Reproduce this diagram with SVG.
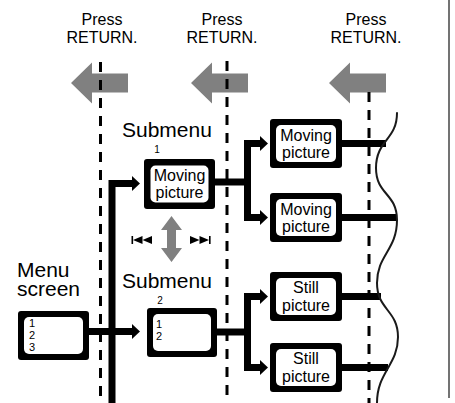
<svg xmlns="http://www.w3.org/2000/svg" width="455" height="403" viewBox="0 0 455 403">
<style>
.t{font-family:"Liberation Sans",Arial,sans-serif;fill:#000}
.big{font-size:21px}
.bx{font-size:16px;text-anchor:middle}
.num{font-size:11px}
.sm{font-size:10px}
.press{font-size:16px;text-anchor:middle}
.dash{stroke:#000;stroke-width:3;stroke-dasharray:10 8;fill:none}
.thick{stroke:#000;stroke-width:7;fill:none;stroke-linejoin:miter}
.gray{fill:#808080}
.outer{fill:#000}
.inner{fill:#fff}
.wave{stroke:#1a1a1a;stroke-width:2;fill:none;stroke-linecap:round}
</style>
<defs>
<polygon id="back" class="gray" points="0,0 21,-20.5 21,-9.5 57,-9.5 57,9.5 21,9.5 21,20.5"/>
<polygon id="ah" class="outer" points="0,-7.5 8,0 0,7.5"/>
</defs>
<rect width="455" height="403" fill="#fff"/>
<line x1="449" y1="0" x2="449" y2="398" stroke="#444" stroke-width="1.5"/>

<g id="press1">
<text class="t press" x="102" y="25">Press</text>
<text class="t press" x="102" y="43">RETURN.</text>
<use href="#back" x="71" y="83"/>
</g>
<g id="press2">
<text class="t press" x="222" y="25">Press</text>
<text class="t press" x="222" y="43">RETURN.</text>
<use href="#back" x="191" y="83"/>
</g>
<g id="press3">
<text class="t press" x="366" y="25">Press</text>
<text class="t press" x="366" y="43">RETURN.</text>
<use href="#back" x="329" y="83"/>
</g>

<g id="stage-dividers">
<line class="dash" x1="100.5" y1="62" x2="100.5" y2="403"/>
<line class="dash" x1="227" y1="61" x2="227" y2="403"/>
<line class="dash" x1="369" y1="92" x2="369" y2="403"/>
</g>

<g id="connectors">
<polyline class="thick" points="112,403 112,183.5 132,183.5"/>
<use href="#ah" x="132" y="183.5"/>
<line class="thick" x1="89" y1="331.5" x2="132" y2="331.5"/>
<use href="#ah" x="132" y="331.5"/>
<line class="thick" x1="215" y1="182" x2="248" y2="182"/>
<polyline class="thick" points="261,143.5 247.5,143.5 247.5,217.5 261,217.5"/>
<use href="#ah" x="260" y="143.5"/>
<use href="#ah" x="260" y="217.5"/>
<line class="thick" x1="217" y1="332" x2="248" y2="332"/>
<polyline class="thick" points="261,296.5 247.5,296.5 247.5,367.5 261,367.5"/>
<use href="#ah" x="260" y="296.5"/>
<use href="#ah" x="260" y="367.5"/>
<line class="thick" x1="342" y1="143.5" x2="386" y2="143.5"/>
<line class="thick" x1="342" y1="217.5" x2="397" y2="217.5"/>
<line class="thick" x1="341" y1="296.5" x2="381" y2="296.5"/>
<line class="thick" x1="341" y1="367.5" x2="388" y2="367.5"/>
</g>

<g id="menu-screen">
<text class="t big" x="17" y="277">Menu</text>
<text class="t big" x="17" y="296">screen</text>
<rect class="outer" x="18" y="311" width="71" height="49" rx="3"/>
<rect class="inner" x="24" y="317" width="59" height="37" rx="5"/>
<text class="t num" x="29" y="327">1</text>
<text class="t num" x="29" y="339">2</text>
<text class="t num" x="29" y="351">3</text>
</g>

<g id="submenu1">
<text class="t big" x="122" y="137">Submenu</text>
<text class="t sm" x="157" y="153" text-anchor="middle">1</text>
<rect class="outer" x="144" y="159" width="71" height="50" rx="3"/>
<rect class="inner" x="150.5" y="165.5" width="58" height="37" rx="5"/>
<text class="t bx" x="179.5" y="181">Moving</text>
<text class="t bx" x="179.5" y="198">picture</text>
</g>

<g id="skip-control">
<polygon class="gray" points="171.5,216 182,230 176,230 176,248 182,248 171.5,262 161,248 167,248 167,230 161,230"/>
<rect class="outer" x="131.5" y="236" width="1.6" height="8"/>
<polygon class="outer" points="133,240 142.5,236 142.5,244"/>
<polygon class="outer" points="142.5,240 152,236 152,244"/>
<polygon class="outer" points="190,236 199.5,240 190,244"/>
<polygon class="outer" points="199.5,236 209,240 199.5,244"/>
<rect class="outer" x="209" y="236" width="1.6" height="8"/>
</g>

<g id="submenu2">
<text class="t big" x="122" y="288">Submenu</text>
<text class="t sm" x="160" y="304" text-anchor="middle">2</text>
<rect class="outer" x="147" y="308" width="70" height="49" rx="3"/>
<rect class="inner" x="153" y="314" width="58" height="37" rx="5"/>
<text class="t num" x="156" y="328">1</text>
<text class="t num" x="156" y="340">2</text>
</g>

<g id="moving1">
<rect class="outer" x="270" y="119" width="72" height="49" rx="3"/>
<rect class="inner" x="276" y="125" width="60" height="37" rx="5"/>
<text class="t bx" x="306" y="140.5">Moving</text>
<text class="t bx" x="306" y="157.5">picture</text>
</g>
<g id="moving2">
<rect class="outer" x="270" y="193" width="72" height="49" rx="3"/>
<rect class="inner" x="276" y="199" width="60" height="37" rx="5"/>
<text class="t bx" x="306" y="214.5">Moving</text>
<text class="t bx" x="306" y="231.5">picture</text>
</g>
<g id="still1">
<rect class="outer" x="270" y="272" width="72" height="49" rx="3"/>
<rect class="inner" x="276" y="278" width="60" height="37" rx="5"/>
<text class="t bx" x="306" y="292.5">Still</text>
<text class="t bx" x="306" y="310.5">picture</text>
</g>
<g id="still2">
<rect class="outer" x="270" y="343" width="72" height="49" rx="3"/>
<rect class="inner" x="276" y="349" width="60" height="37" rx="5"/>
<text class="t bx" x="306" y="363.5">Still</text>
<text class="t bx" x="306" y="381.5">picture</text>
</g>

<g id="break-line">
<path class="wave" d="M397,113 C397,140 376,140 376,168 C376,195 397,193 397,220 C397,250 377,255 377,283 C377,310 398,310 398,337 C398,365 377,372 377,403"/>
</g>
</svg>
